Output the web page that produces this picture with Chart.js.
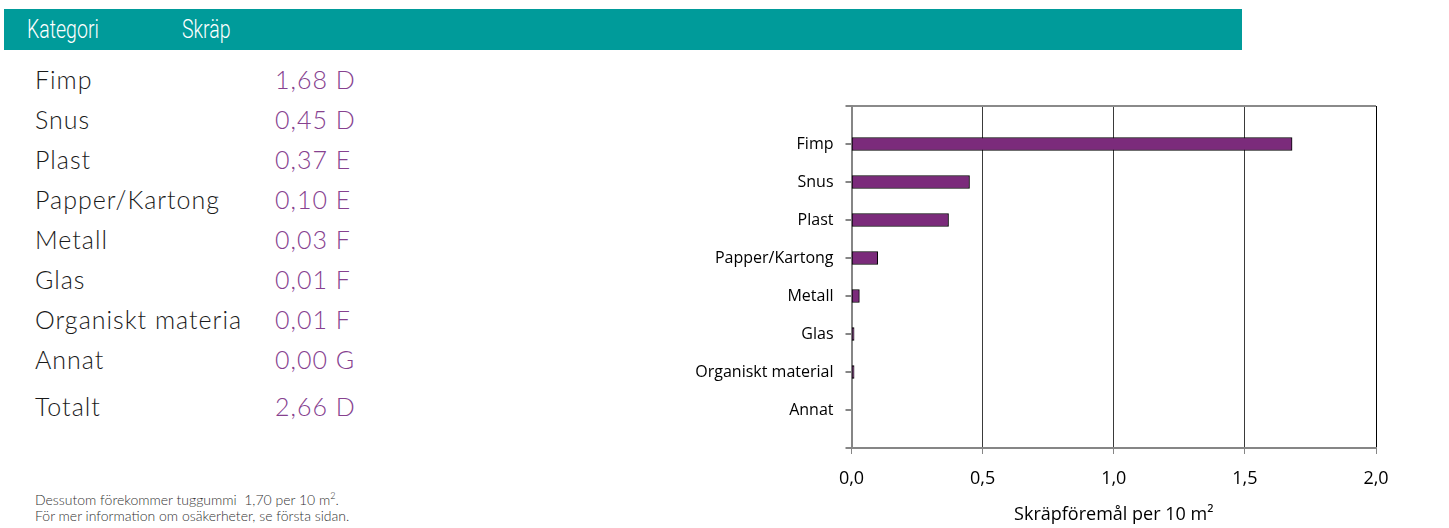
<!DOCTYPE html>
<html lang="sv">
<head>
<meta charset="utf-8">
<script src="https://cdn.jsdelivr.net/npm/chart.js@4"></script>
<style>
    body { margin: 0; width: 1449px; height: 528px; background: #fff; position: relative; overflow: hidden; font-family: Lato, "Open Sans", sans-serif; }
    .band { position: absolute; left: 4px; top: 9px; width: 1238px; height: 41px; background: #009b9a; }
    .band span { position: absolute; top: 0; line-height: 41px; color: #fff; font-family: Roboto, sans-serif; font-weight: 300; font-size: 25px; transform: scaleX(0.78); transform-origin: left center; }
    .row { position: absolute; left: 35px; font-size: 25px; font-weight: 300; color: #1a1a1a; line-height: 30px; letter-spacing: 1px; }
    .val { position: absolute; left: 275px; font-size: 25px; font-weight: 300; color: #86418f; line-height: 30px; letter-spacing: 1px; }
    .note { position: absolute; left: 35px; font-size: 14px; font-weight: 300; color: #333; line-height: 20px; }
    .note sup { font-size: 9px; }
    #wrap { position: absolute; left: 660px; top: 95px; width: 760px; height: 433px; }
</style>
</head>
<body>
<div class="band"><span style="left:23px">Kategori</span><span style="left:178px">Skräp</span></div>
<div id="table"></div>
<div class="note" style="top:486px">Dessutom förekommer tuggummi&nbsp; 1,70 per 10 m<sup>2</sup>.</div>
<div class="note" style="top:506px">För mer information om osäkerheter, se första sidan.</div>
<div id="wrap"><canvas id="chart" width="760" height="433"></canvas></div>
<script>
// data
const categories = ['Fimp', 'Snus', 'Plast', 'Papper/Kartong', 'Metall', 'Glas', 'Organiskt material', 'Annat'];
const tableLabels = ['Fimp', 'Snus', 'Plast', 'Papper/Kartong', 'Metall', 'Glas', 'Organiskt materia', 'Annat'];
const values = [1.68, 0.45, 0.37, 0.10, 0.03, 0.01, 0.01, 0.00];
const grades = ['D', 'D', 'E', 'E', 'F', 'F', 'F', 'G'];
const totalValue = 2.66;
const totalGrade = 'D';
const xTicks = [0, 0.5, 1.0, 1.5, 2.0];

function fmt(v, d) {
    return v.toFixed(d).replace('.', ',');
}

// left table
const table = document.getElementById('table');
let html = '';
tableLabels.forEach((label, i) => {
    const top = 64 + i * 40;
    html += `<div class="row" style="top:${top}px">${label}</div>`;
    html += `<div class="val" style="top:${top}px">${fmt(values[i], 2)} ${grades[i]}</div>`;
});
html += `<div class="row" style="top:391px">Totalt</div>`;
html += `<div class="val" style="top:391px">${fmt(totalValue, 2)} ${totalGrade}</div>`;
table.innerHTML = html;

// empty slots above and below so the bars sit one step in from the frame
const labels = [''].concat(categories, ['']);
const data = [null].concat(values, [null]);

const ctx = document.getElementById('chart').getContext('2d');
new Chart(ctx, {
    type: 'bar',
    data: {
        labels: labels,
        datasets: [{
            data: data,
            backgroundColor: '#7b2b7b',
            borderColor: '#000',
            borderWidth: 1,
            borderSkipped: false,
            barThickness: 13
        }]
    },
    options: {
        indexAxis: 'y',
        responsive: false,
        animation: false,
        devicePixelRatio: 1,
        layout: { padding: { top: 0, right: 44, left: 0, bottom: 0 } },
        plugins: { legend: { display: false }, tooltip: { enabled: false } },
        scales: {
            x: {
                type: 'linear',
                min: 0,
                max: 2,
                afterBuildTicks: axis => { axis.ticks = xTicks.map(v => ({ value: v })); },
                afterFit: axis => { axis.height = 80; },
                ticks: {
                    color: '#000',
                    padding: 14,
                    font: { family: 'Open Sans', size: 18 },
                    callback: v => fmt(v, 1)
                },
                grid: {
                    color: c => c.index === 4 ? '#000' : '#3a3a3a',
                    lineWidth: 1,
                    tickLength: 6,
                    tickColor: '#868686'
                },
                border: { display: true, color: '#868686', width: 2 },
                title: {
                    display: true,
                    text: 'Skräpföremål per 10 m²',
                    color: '#000',
                    font: { family: 'Open Sans', size: 18 },
                    padding: { top: 4, bottom: 2 }
                }
            },
            y: {
                type: 'category',
                offset: false,
                afterFit: axis => {
                    axis.width = 191.5;
                    axis.paddingTop = 11;
                    axis.paddingBottom = 0;
                },
                ticks: {
                    color: '#000',
                    padding: 12,
                    autoSkip: false,
                    font: { family: 'Open Sans', size: 16 }
                },
                grid: {
                    offset: false,
                    color: c => c.index === 0 ? '#8a8a8a' : 'transparent',
                    lineWidth: 2,
                    tickLength: 6,
                    tickColor: '#868686'
                },
                border: { display: true, color: '#868686', width: 2 }
            }
        }
    }
});
</script>
</body>
</html>
